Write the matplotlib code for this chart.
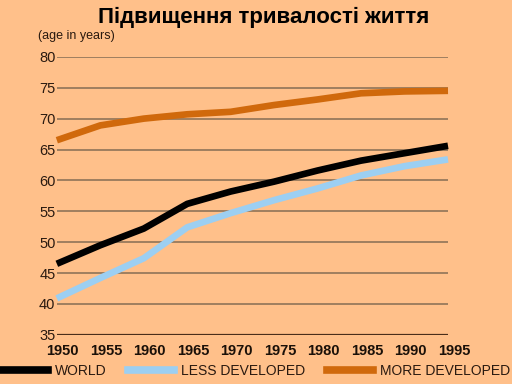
import matplotlib
matplotlib.use("Agg")
import matplotlib.pyplot as plt
import matplotlib.transforms as mtransforms
from matplotlib.lines import Line2D

years = [1950, 1955, 1960, 1965, 1970, 1975, 1980, 1985, 1990, 1995]
world = [46.5, 49.5, 52.2, 56.2, 58.2, 59.8, 61.6, 63.2, 64.4, 65.6]
less_developed = [40.9, 44.2, 47.4, 52.4, 54.7, 56.8, 58.7, 60.8, 62.3, 63.4]
more_developed = [66.5, 68.9, 70.0, 70.7, 71.1, 72.2, 73.1, 74.1, 74.4, 74.5]
y_ticks = [35, 40, 45, 50, 55, 60, 65, 70, 75, 80]
title = "Підвищення тривалості життя"
ylabel = "(age in years)"
legend_labels = ["WORLD", "LESS DEVELOPED", "MORE DEVELOPED"]

bg = "#FFC08A"
c_world = "#000000"
c_less = "#9CCFF2"
c_more = "#D0690C"
grid_c = "#977a5c"
fam = ["Liberation Sans", "DejaVu Sans"]

fig = plt.figure(figsize=(5.12, 3.84), dpi=100, facecolor=bg)
ax = fig.add_axes([0.111, 0.128, 0.764, 0.724], facecolor=bg)

for y in y_ticks[1:]:
    ax.axhline(y, color=grid_c, lw=1.3, zorder=1)
ax.axhline(35, color="#4a2e1a", lw=1.6, zorder=1)

lw = 4.8
ax.plot(years, less_developed, color=c_less, lw=lw, solid_capstyle="butt", clip_on=False, zorder=3)
ax.plot(years, world, color=c_world, lw=lw, solid_capstyle="butt", clip_on=False, zorder=4)
ax.plot(years, more_developed, color=c_more, lw=lw, solid_capstyle="butt", clip_on=False, zorder=3)

ax.set_xlim(1950, 1995)
ax.set_ylim(35, 80)
for s in ax.spines.values():
    s.set_visible(False)
ax.set_yticks(y_ticks)
ax.set_yticklabels([str(v) for v in y_ticks], fontsize=10.5, color="#2a1a10", family=fam)
ax.tick_params(axis="y", length=0, pad=1)
ax.set_xticks(years)
ax.set_xticklabels([str(v) for v in years], fontsize=10.5, fontweight="bold", color="#1a1008", family=fam)
ax.tick_params(axis="x", length=0, pad=6.5)
offset = mtransforms.ScaledTranslation(6 / 100, 0, fig.dpi_scale_trans)
for lbl in ax.get_xticklabels():
    lbl.set_transform(lbl.get_transform() + offset)

fig.text(0.515, 0.955, title, ha="center", va="center", fontsize=16, fontweight="bold", family=fam)
fig.text(0.074, 0.906, ylabel, ha="left", va="center", fontsize=9, color="#2a1a10", family=fam)

handles = [Line2D([0], [0], color=c, lw=5.5) for c in (c_world, c_less, c_more)]
leg = fig.legend(handles, legend_labels, loc="lower center", bbox_to_anchor=(0.5, -0.016), ncol=3,
                 frameon=False, handlelength=3.3, columnspacing=1.6, handletextpad=0.5,
                 prop={"family": fam, "size": 10})
for t in leg.get_texts():
    t.set_color("#2a1a10")

fig.savefig("out.png", dpi=100, facecolor=bg)
